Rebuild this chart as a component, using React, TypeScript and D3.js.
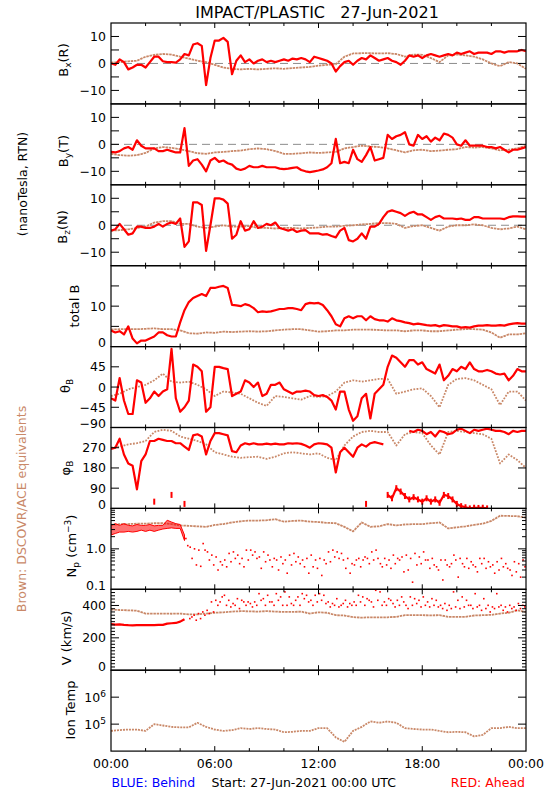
import React from "react";
import * as d3 from "d3";

// ---------------- data ----------------
const RED_STEP_H = 0.25; // STEREO-A samples, hours
const BROWN_STEP_H = 0.5; // DSCOVR/ACE samples, hours

const bxRed = [0, -0.5, 1.5, 0.5, -2.2, -1.5, -0.5, -0.5, -1.5, 0.5, 2.5, 2.5, 0.8, 0.5, 0.5, 0.3, 1.5, 3.5, 3, 7, 7.5, 6.5, -8, 2, 8.5, 8.5, 9.5, 8, -4, 1, 3, 0.5, 1.5, 0, 1, 1.5, 0.5, 1, 0.5, 1, 1.5, 1, 1.8, 1.5, 2, 1.5, 0.5, 2.5, 2, 1.5, 1, 0, -3, -1, 0.5, 1, -0.5, 1, 2, 1.5, 3, 2, 1, 1.5, 2, 1, 0.5, -0.5, 1, 3, 2.5, 3, 2, 3, 3.5, 3, 2.5, 3, 3.5, 3, 4, 3.5, 4, 4.5, 3.5, 4, 4, 4, 3.5, 4.5, 4.5, 4, 4.5, 4.5, 4.5, 5, 4.5];
const byRed = [-2.8, -3, -2.5, -1.5, -1, -2, 1.5, -0.5, -1.5, -1.5, -1.5, -2.5, -2.5, -2, -2.5, -3, -3, 6, -8, -6, -5.5, -7.5, -10, -6, -5, -6.5, -6, -7, -7.5, -9, -9.5, -9, -8, -8.5, -8.5, -8, -8.5, -8.5, -8.5, -9, -9.2, -9, -8.7, -8.5, -9.5, -10, -10.3, -10, -9.7, -9.3, -8.5, -7, 2, -7, -6.5, -7, -2, -5.5, -6.5, -4, -1, -6, -5.5, -5, 3.5, 2, 3, 3.5, 4.5, 0, -0.5, 3.5, 2, 3, 1, 2.5, 1.5, 4, 3.5, 2.5, 0, -0.5, 1.5, -0.5, -0.5, -0.5, -0.5, -1, -1, -1.5, -1, -2, -3, -2, -2, -1.5, -1];
const bzRed = [-2, -1.5, 0.5, -1.5, -3.5, -3, -0.5, -0.5, -1, -1, -0.5, 0.5, -0.5, 0.5, 1, 0.5, 2.5, -8, -6, 8.5, 8.5, 7.5, -9.5, 0, 10, 10, 9.5, 8, -5, -3.5, 1.5, -2, -1.5, 1.5, -1, -0.5, 0.5, 0, 1, -1, -1.5, -2, -1.5, -2.5, -2, -1.8, -3, -3, -3, -3.5, -3.3, -4, -4.5, -2, -1, -5.5, -6, -5, -3, -5, -0.5, -0.5, 0.5, 3, 5, 5.5, 5, 4.5, 3.5, 4.5, 5, 4, 4, 3, 2, 3, 3.5, 2.5, 2.5, 2.5, 2.3, 2.5, 2, 2, 3, 3, 2.5, 2.5, 2.5, 2.5, 2.5, 2.3, 3, 3.3, 3.3, 3.2, 3.2];
const btRed = [4, 3.5, 3.8, 3, 5, 2, 0.8, 1.5, 1.5, 2, 2.5, 3.5, 3.5, 2.8, 2.5, 2.5, 6, 9, 11, 12, 12.5, 13, 12.5, 14.5, 14.5, 14.8, 15, 14.5, 10.3, 10.2, 10, 10.5, 10.2, 9.5, 8.5, 8.7, 8.6, 8.7, 9, 9.3, 9.3, 9.5, 9.5, 9.3, 9, 10.5, 10.8, 10.7, 10.8, 10.3, 9, 7.5, 5.5, 5, 7, 7.5, 7, 7.5, 7.5, 6.5, 7.5, 6.8, 6.5, 6.5, 6.2, 7, 6.5, 6.3, 6, 5.8, 5.5, 5.7, 5.5, 5.3, 5.2, 5.3, 5, 5.3, 5.2, 5, 5, 4.7, 4.8, 4.7, 5, 5.2, 5.2, 5.3, 5.2, 5.2, 5.3, 5.2, 5.5, 5.7, 5.8, 5.7, 5.7];
const thetaRed = [-25, -30, 20, -30, -60, -60, 15, 10, -35, -25, -10, -20, -10, -5, 85, -25, -55, -45, -30, 50, 45, 35, -55, -45, 45, 45, 42, 40, -20, -15, -10, 15, 10, 0, 10, -20, -15, 5, 5, 10, -5, -10, -15, -10, -10, -8, -10, -18, -20, -18, -22, -30, -50, -10, -10, -50, -75, -65, -25, -15, -70, -15, -5, 5, 45, 70, 65, 55, 45, 60, 60, 50, 55, 40, 35, 30, 50, 15, 25, 40, 35, 45, 40, 55, 40, 35, 35, 38, 35, 30, 28, 30, 15, 25, 40, 35, 35];
const phiRed: (number | null)[] = [265, 270, 310, 240, 200, 190, 85, 210, 240, 300, 300, 310, 305, 300, 300, 290, 290, 275, 260, 325, 330, 320, 240, 300, 335, 335, 330, 325, 255, 250, 280, 290, 285, 290, 285, 285, 288, 285, 288, 285, 285, 290, 288, 290, 287, 280, 270, 285, 290, 288, 285, 270, 160, 250, 270, 250, 230, 270, 285, 275, 290, 295, 290, 285, null, null, null, null, null, 345, 340, 350, 345, 330, 340, 320, 345, 340, 330, 335, 350, 355, 345, 335, 350, 345, 350, 355, 350, 345, 345, 340, 330, 345, 340, 345, 345];
// wrapped (just past 360 deg) branch of the red azimuth
const phiRedWrapped: (number | null)[] = [null, null, null, null, null, null, null, null, null, null, 30, null, null, null, 60, null, null, 20, null, null, null, null, null, null, null, null, null, null, null, null, null, null, null, null, null, null, null, null, null, null, null, null, null, null, null, null, null, null, null, null, null, null, null, null, null, null, null, null, null, 20, null, null, null, null, 60, 45, 90, 75, 55, 40, 50, 40, 30, 45, 30, 40, 25, 60, 55, 40, 20, 10, 5, 0, 3, 2, 3, 0, null, null, null, null, null, null, null, null, null];

const npRedHi = [3.8, 4.2, 3.8, 4.2, 3.8, 3.7, 4.0, 3.8, 3.8, 4.0, 3.7, 3.8, 3.8, 5.1, 4.6, 4.2, 4.0, 2.2];
const npRedLo = [2.2, 2.4, 2.6, 2.6, 2.7, 2.6, 2.7, 2.9, 2.7, 2.9, 2.7, 2.9, 3.1, 3.2, 3.3, 3.2, 3.2, 1.6];
const NP_DOTS_START_H = 4.25;
const npRedDotsA = [1.8, 1.1, 1.0, 0.93, 1.35, 0.84, 0.7, 0.63, 0.48, 0.53, 0.77, 0.84, 0.7, 0.58, 0.93, 0.93, 0.84, 0.63, 0.84, 0.7, 0.36, 0.53, 0.63, 0.53, 0.7, 0.77, 0.63, 0.53, 0.58, 0.7, 0.53, 0.58, 0.53, 0.84, 0.93, 0.84, 0.77, 0.33, 0.25, 0.4, 0.58, 0.53, 0.58, 0.84, 0.93, 0.43, 0.58, 0.53, 0.7, 0.58, 0.63, 0.7, 0.58, 0.77, 0.63, 0.84, 0.53, 0.58, 0.36, 0.53, 0.53, 0.36, 0.7, 0.2, 0.43, 0.58, 0.48, 0.36, 0.58, 0.58, 0.48, 0.4, 0.48, 0.58, 0.43, 0.3, 0.48, 0.43, 0.53];
const npRedDotsB = [1.2, 0.58, 0.4, 0.37, 0.93, 0.53, 0.4, 0.3, 0.4, 0.36, 0.48, 0.58, 0.43, 0.36, 0.53, 0.7, 0.58, 0.33, 0.48, 0.53, 0.58, 0.3, 0.43, 0.25, 0.4, 0.48, 0.43, 0.36, 0.25, 0.36, 0.33, 0.22, 0.43, 0.48, 0.63, 0.58, 0.53, 0.58, 0.43, 0.53, 0.36, 0.63, 0.43, 0.53, 0.58, 0.36, 0.4, 0.33, 0.43, 0.53, 0.27, 0.3, 0.15, 0.4, 0.43, 0.53, 0.33, 0.4, 0.3, 0.17, 0.4, 0.43, 0.53, 0.58, 0.36, 0.33, 0.4, 0.27, 0.43, 0.33, 0.36, 0.25, 0.3, 0.36, 0.33, 0.22, 0.27, 0.2, 0.36];

const vRed = [285, 282, 283, 280, 278, 277, 278, 278, 278, 278, 279, 280, 280, 288, 290, 292, 300, 315];
const V_DOTS_START_H = 4.5;
const vRedDotsA = [319, 340, 350, 360, 370, 422, 432, 422, 463, 432, 412, 442, 432, 401, 412, 422, 473, 442, 463, 422, 473, 453, 484, 453, 401, 453, 473, 463, 432, 463, 473, 463, 422, 412, 442, 401, 432, 412, 422, 463, 453, 442, 422, 494, 484, 422, 442, 412, 432, 453, 401, 453, 442, 432, 453, 422, 442, 432, 401, 412, 401, 484, 432, 453, 432, 401, 473, 401, 442, 401, 391, 473, 401, 391, 401, 391, 412, 401];
const vRedDotsB = [329, 309, 319, 340, 350, 360, 401, 453, 401, 391, 401, 381, 422, 422, 391, 401, 432, 401, 422, 401, 432, 401, 401, 412, 432, 401, 442, 422, 401, 422, 432, 412, 391, 401, 391, 412, 391, 401, 401, 422, 401, 432, 391, 432, 401, 401, 432, 391, 401, 422, 381, 401, 412, 391, 401, 391, 401, 391, 381, 370, 381, 391, 381, 391, 401, 381, 391, 370, 381, 360, 381, 391, 370, 360, 381, 370, 381, 391];

const bxBrown = [0.3, 0.5, 0.8, 1, 2.5, 3.2, 3.5, 3.3, 2.5, 1.8, 1, 0.5, -0.5, -1.5, -2, -2.2, -2, -2.2, -2, -1.8, -2, -1.7, -1.5, -1.3, -0.8, -0.5, -0.3, 2.5, 3.7, 3.8, 3.8, 3.7, 3.8, 3.5, 2.5, 3.3, 3.2, 2, 0.5, 3, 3.3, 3, 2.5, 1.5, 0, -1, 0.5, 0, -2];
const byBrown = [-3.5, -4, -4.2, -4, -3.2, -1.5, -1, -1.3, -1.8, -2.5, -3.3, -3.5, -3, -2.8, -2.5, -2.3, -1.8, -1.5, -1.8, -2.5, -3.5, -3.5, -3.3, -3, -3.2, -3, -2.8, -1.5, -1, -0.5, -0.8, -1, -1.5, -2.2, -3, -2.2, -2, -2.5, -2.3, -2, -1.8, -1, -1.2, -1, -1.5, -2.2, -2, -1.5, -0.5];
const bzBrown = [-2, -1.8, -1.5, -1, -0.5, 1, 1.5, 1.5, 0.5, 0.5, -0.5, -1, -0.5, 0, -0.5, -0.5, -0.3, -1, -1, -1.2, -1, -1, -1.2, -1, -0.8, -0.5, -0.5, -0.2, 0, 0.3, 0.5, 0.8, 0.8, 0.5, -1, -0.3, 0, -1, -2, -0.5, 0, 0, 0.3, 0, -1, -1.5, -1.2, -0.5, -1.5];
const btBrown = [4.2, 4.3, 4.3, 4.3, 4.4, 4.5, 4.3, 4.3, 4, 3.3, 3.2, 3.5, 3.4, 3.7, 3.6, 3.7, 3.8, 3.7, 3.8, 4, 4.2, 4.3, 4.3, 4, 3.7, 3.8, 4, 4, 4.2, 4.2, 4.2, 4.1, 4, 4, 3.8, 4, 4, 3.8, 3.8, 4, 4.2, 4.3, 4.3, 4.2, 3.5, 2.2, 3, 3, 3.3];
const thetaBrown = [-20, -15, -5, 0, 5, 15, 30, 12, 10, 12, 5, -5, -20, -10, -12, -15, -25, -35, -42, -20, -22, -25, -28, -20, -22, -20, -10, 10, 15, 12, 15, 18, 18, -15, -10, -5, -3, -20, -45, 5, 18, 20, 15, 5, -5, -40, -10, -10, -30];
const phiBrown = [270, 275, 285, 290, 300, 340, 350, 345, 320, 310, 300, 285, 250, 240, 230, 225, 228, 230, 220, 230, 245, 250, 245, 240, 245, 225, 215, 280, 320, 340, 345, 340, 340, 280, 330, 340, 335, 280, 240, 340, 345, 340, 335, 330, 310, 200, 240, 215, 180];
const npBrown = [3.9, 4.1, 4.1, 4.2, 4.2, 4.3, 4.3, 4.1, 3.8, 3.7, 3.6, 3.5, 3.9, 4.1, 4.5, 4.8, 5, 5, 5.1, 5.4, 4.7, 4.9, 5, 4.7, 4.6, 4.4, 4.3, 3.5, 2.7, 4.5, 3.5, 3.6, 4.1, 3.8, 4, 4.1, 4.1, 4.3, 4.5, 3.2, 3.4, 3.6, 3.9, 4.2, 4.9, 6.6, 6.5, 6.4, 5.9];
const vBrown = [375, 372, 370, 368, 350, 350, 350, 349, 350, 345, 345, 350, 355, 358, 362, 365, 364, 362, 365, 362, 360, 360, 362, 350, 358, 355, 340, 338, 328, 325, 327, 326, 327, 330, 340, 340, 340, 339, 340, 330, 330, 330, 338, 340, 342, 350, 355, 370, 360];
const tempBrown = [56000, 60000, 63000, 63000, 56000, 100000, 89000, 79000, 76000, 76000, 112000, 79000, 63000, 56000, 60000, 71000, 66000, 71000, 66000, 63000, 50000, 52000, 56000, 56000, 71000, 71000, 32000, 22000, 56000, 79000, 126000, 112000, 126000, 112000, 71000, 66000, 63000, 63000, 56000, 50000, 52000, 50000, 35000, 40000, 71000, 71000, 79000, 71000, 71000];

const timeTickHours = [0, 6, 12, 18, 24];
const timeTickLabels = ["00:00", "06:00", "12:00", "18:00", "00:00"];
const minorTimeHours = [2, 4, 8, 10, 14, 16, 20, 22];

const TITLE = "IMPACT/PLASTIC   27-Jun-2021";
const UNITS_LABEL = "(nanoTesla, RTN)";
const BROWN_NOTE = "Brown: DSCOVR/ACE equivalents";
const FOOT_BLUE = "BLUE: Behind";
const FOOT_START = "Start: 27-Jun-2021 00:00 UTC";
const FOOT_RED = "RED: Ahead";

// ---------------- layout / style ----------------
const X_LEFT = 111;
const X_RIGHT = 526;
const PANEL_TOP = 23;
const PANEL_H = 80.9;
const RED = "#ff0000";
const BROWN = "#c98868";
const FONT = "DejaVu Sans";

type Pt = { t: number; v: number | null };
const toPts = (vals: (number | null)[], step: number, t0 = 0): Pt[] =>
  vals.map((v, i) => ({ t: t0 + i * step, v }));

const minus = (s: string) => s.replace(/^-/, "\u2212");

type Label = { v: number; text: React.ReactNode; bottom?: boolean };
type Panel = {
  id: string;
  log?: boolean;
  domain: [number, number];
  majors: number[];
  minors: number[];
  labels: Label[];
  zero?: boolean;
  title: React.ReactNode;
  titleX: number;
  titleY: number;
  brown: Pt[];
  brownDash: string;
  redLines: Pt[][];
  redArea?: { t: number; lo: number; hi: number }[];
  redDots?: Pt[];
};

const sub = (main: string, s: string, rest = "") => (
  <>
    <tspan>{main}</tspan>
    <tspan fontSize={9} dy={3}>{s}</tspan>
    {rest ? <tspan dy={-3}>{rest}</tspan> : null}
  </>
);

const numLabels = (vals: number[], bottom: number): Label[] =>
  vals.map((v) => ({ v, text: minus(String(v)), bottom: v === bottom }));

export default function App() {
  const x = d3.scaleLinear().domain([0, 24]).range([X_LEFT, X_RIGHT]);

  const panels: Panel[] = [
    {
      id: "bx", domain: [-15, 15], majors: [-10, -5, 0, 5, 10], minors: [],
      labels: numLabels([10, 0, -10], -15), zero: true,
      title: sub("B", "x", "(R)"), titleX: 68, titleY: 60,
      brown: toPts(bxBrown, BROWN_STEP_H), brownDash: "2.5 0.8", redLines: [toPts(bxRed, RED_STEP_H)],
    },
    {
      id: "by", domain: [-15, 15], majors: [-10, -5, 0, 5, 10], minors: [],
      labels: numLabels([10, 0, -10], -15), zero: true,
      title: sub("B", "y", "(T)"), titleX: 68, titleY: 151,
      brown: toPts(byBrown, BROWN_STEP_H), brownDash: "2.5 0.8", redLines: [toPts(byRed, RED_STEP_H)],
    },
    {
      id: "bz", domain: [-15, 15], majors: [-10, -5, 0, 5, 10], minors: [],
      labels: numLabels([10, 0, -10], -15), zero: true,
      title: sub("B", "z", "(N)"), titleX: 67, titleY: 227,
      brown: toPts(bzBrown, BROWN_STEP_H), brownDash: "2.5 0.8", redLines: [toPts(bzRed, RED_STEP_H)],
    },
    {
      id: "bt", domain: [0, 20], majors: [5, 10, 15], minors: [],
      labels: numLabels([10, 0], 0),
      title: <tspan>total B</tspan>, titleX: 79, titleY: 306,
      brown: toPts(btBrown, BROWN_STEP_H), brownDash: "2.5 0.8", redLines: [toPts(btRed, RED_STEP_H)],
    },
    {
      id: "theta", domain: [-90, 90], majors: [-45, 0, 45], minors: [],
      labels: numLabels([45, 0, -45, -90], -90),
      title: sub("\u03b8", "B"), titleX: 70, titleY: 386,
      brown: toPts(thetaBrown, BROWN_STEP_H), brownDash: "1.8 1.4", redLines: [toPts(thetaRed, RED_STEP_H)],
    },
    {
      id: "phi", domain: [0, 360], majors: [90, 180, 270], minors: [],
      labels: numLabels([270, 180, 90, 0], 0),
      title: sub("\u03c6", "B"), titleX: 70, titleY: 468,
      brown: toPts(phiBrown, BROWN_STEP_H), brownDash: "1.8 1.4",
      redLines: [toPts(phiRed, RED_STEP_H), toPts(phiRedWrapped, RED_STEP_H)],
    },
    {
      id: "np", log: true, domain: [0.1, 10], majors: [1],
      minors: [0.2, 0.3, 0.4, 0.5, 0.6, 0.7, 0.8, 0.9, 2, 3, 4, 5, 6, 7, 8, 9],
      labels: [{ v: 1, text: "1.0" }, { v: 0.1, text: "0.1", bottom: true }],
      title: (
        <>
          <tspan>N</tspan>
          <tspan fontSize={9} dy={3}>p</tspan>
          <tspan dy={-3}> (cm</tspan>
          <tspan fontSize={9} dy={-5}>{"\u22123"}</tspan>
          <tspan dy={5}>)</tspan>
        </>
      ),
      titleX: 76, titleY: 546,
      brown: toPts(npBrown, BROWN_STEP_H), brownDash: "2.5 0.8", redLines: [],
      redArea: npRedHi.map((hi, i) => ({ t: i * RED_STEP_H, hi, lo: npRedLo[i] })),
      redDots: [
        ...toPts(npRedDotsA, RED_STEP_H, NP_DOTS_START_H + 0.08),
        ...toPts(npRedDotsB, RED_STEP_H, NP_DOTS_START_H + 0.19),
      ],
    },
    {
      id: "v", domain: [0, 500], majors: [200, 400],
      minors: d3.range(20, 500, 20).filter((v) => v % 200 !== 0),
      labels: numLabels([400, 200, 0], 0),
      title: <tspan>V (km/s)</tspan>, titleX: 71, titleY: 638,
      brown: toPts(vBrown, BROWN_STEP_H), brownDash: "2.5 0.8", redLines: [toPts(vRed, RED_STEP_H)],
      redDots: [
        ...toPts(vRedDotsA, RED_STEP_H, V_DOTS_START_H + 0.06),
        ...toPts(vRedDotsB, RED_STEP_H, V_DOTS_START_H + 0.18),
      ],
    },
    {
      id: "temp", log: true, domain: [1e4, 1e7], majors: [1e5, 1e6], minors: [],
      labels: [
        { v: 1e6, text: <><tspan>10</tspan><tspan fontSize={9} dy={-5}>6</tspan></> },
        { v: 1e5, text: <><tspan>10</tspan><tspan fontSize={9} dy={-5}>5</tspan></> },
      ],
      title: <tspan>Ion Temp</tspan>, titleX: 75, titleY: 710,
      brown: toPts(tempBrown, BROWN_STEP_H), brownDash: "2 1", redLines: [],
    },
  ];

  return (
    <svg
      width={550}
      height={800}
      style={{ position: "absolute", left: 0, top: 0, background: "#fff" }}
      fontFamily={FONT}
    >
      <rect x={0} y={0} width={550} height={800} fill="#fff" />
      <text x={317} y={17.5} fontSize={16} textAnchor="middle" style={{ whiteSpace: "pre" }}>
        {TITLE}
      </text>

      {panels.map((p, k) => {
        const top = PANEL_TOP + k * PANEL_H;
        const bottom = top + PANEL_H;
        const y = (p.log ? d3.scaleLog() : d3.scaleLinear()).domain(p.domain).range([bottom, top]);
        const line = d3
          .line<Pt>()
          .defined((d) => d.v !== null)
          .x((d) => x(d.t))
          .y((d) => y(d.v as number));
        const clipId = `clip-${p.id}`;
        const area = p.redArea
          ? d3
              .area<{ t: number; lo: number; hi: number }>()
              .x((d) => x(d.t))
              .y0((d) => y(d.lo))
              .y1((d) => y(d.hi))(p.redArea)
          : null;
        return (
          <g key={p.id}>
            <defs>
              <clipPath id={clipId}>
                <rect x={X_LEFT} y={top} width={X_RIGHT - X_LEFT} height={PANEL_H} />
              </clipPath>
            </defs>
            {p.zero && (
              <line
                x1={X_LEFT}
                x2={X_RIGHT}
                y1={y(0)}
                y2={y(0)}
                stroke="#8c8c8c"
                strokeWidth={1}
                strokeDasharray="8 5"
              />
            )}
            <g clipPath={`url(#${clipId})`}>
              <path
                d={line(p.brown) || ""}
                fill="none"
                stroke={BROWN}
                strokeWidth={1.8}
                strokeDasharray={p.brownDash}
                strokeLinejoin="round"
              />
              {area && <path d={area} fill={RED} fillOpacity={0.55} stroke={RED} strokeWidth={1} />}
              {p.redLines.map((s, i) => (
                <path key={i} d={line(s) || ""} fill="none" stroke={RED} strokeWidth={2.2} strokeLinejoin="round" />
              ))}
              {p.redLines.length > 1 &&
                p.redLines[1]
                  .filter((d) => d.v !== null)
                  .map((d, i) => (
                    <rect key={`w${i}`} x={x(d.t) - 1} y={y(d.v as number) - 3} width={2} height={6} fill={RED} />
                  ))}
              {p.redDots &&
                p.redDots.map((d, i) => (
                  <rect key={`d${i}`} x={x(d.t) - 0.8} y={y(d.v as number) - 0.8} width={1.6} height={1.6} fill={RED} />
                ))}
            </g>
            {/* frame */}
            <rect
              x={X_LEFT}
              y={top}
              width={X_RIGHT - X_LEFT}
              height={PANEL_H}
              fill="none"
              stroke="#000"
              strokeWidth={1.2}
            />
            {/* y ticks */}
            {p.majors.map((v) => (
              <g key={`M${v}`} stroke="#000" strokeWidth={1}>
                <line x1={X_LEFT} x2={X_LEFT + 8} y1={y(v)} y2={y(v)} />
                <line x1={X_RIGHT} x2={X_RIGHT - 8} y1={y(v)} y2={y(v)} />
              </g>
            ))}
            {p.minors.map((v) => (
              <g key={`m${v}`} stroke="#000" strokeWidth={1}>
                <line x1={X_LEFT} x2={X_LEFT + 4} y1={y(v)} y2={y(v)} />
                <line x1={X_RIGHT} x2={X_RIGHT - 4} y1={y(v)} y2={y(v)} />
              </g>
            ))}
            {/* x ticks */}
            {timeTickHours.slice(1, -1).map((h) => (
              <g key={`T${h}`} stroke="#000" strokeWidth={1}>
                <line x1={x(h)} x2={x(h)} y1={bottom} y2={bottom - 5} />
                <line x1={x(h)} x2={x(h)} y1={top} y2={top + 5} />
              </g>
            ))}
            {minorTimeHours.map((h) => (
              <g key={`t${h}`} stroke="#000" strokeWidth={1}>
                <line x1={x(h)} x2={x(h)} y1={bottom} y2={bottom - 3} />
                <line x1={x(h)} x2={x(h)} y1={top} y2={top + 3} />
              </g>
            ))}
            {/* tick labels */}
            {p.labels.map((l, i) => (
              <text
                key={`l${i}`}
                x={106}
                y={y(l.v) + (l.bottom ? 0.5 : 4.5)}
                fontSize={12.5}
                textAnchor="end"
              >
                {l.text}
              </text>
            ))}
            {/* axis title */}
            <text
              transform={`translate(${p.titleX},${p.titleY}) rotate(-90)`}
              fontSize={13}
              textAnchor="middle"
            >
              {p.title}
            </text>
          </g>
        );
      })}

      {/* side notes */}
      <text transform="translate(27,184) rotate(-90)" fontSize={12.5} textAnchor="middle">
        {UNITS_LABEL}
      </text>
      <text transform="translate(26,509) rotate(-90)" fontSize={12.5} textAnchor="middle" fill={BROWN}>
        {BROWN_NOTE}
      </text>

      {/* time axis labels */}
      {timeTickHours.map((h, i) => (
        <text key={`tl${i}`} x={x(h)} y={768} fontSize={12.5} textAnchor="middle">
          {timeTickLabels[i]}
        </text>
      ))}
      <text x={111.5} y={787} fontSize={12.5} fill="#0000ff">{FOOT_BLUE}</text>
      <text x={211.5} y={787} fontSize={12.5} fill="#000">{FOOT_START}</text>
      <text x={525} y={787} fontSize={12.5} fill={RED} textAnchor="end">{FOOT_RED}</text>
    </svg>
  );
}
